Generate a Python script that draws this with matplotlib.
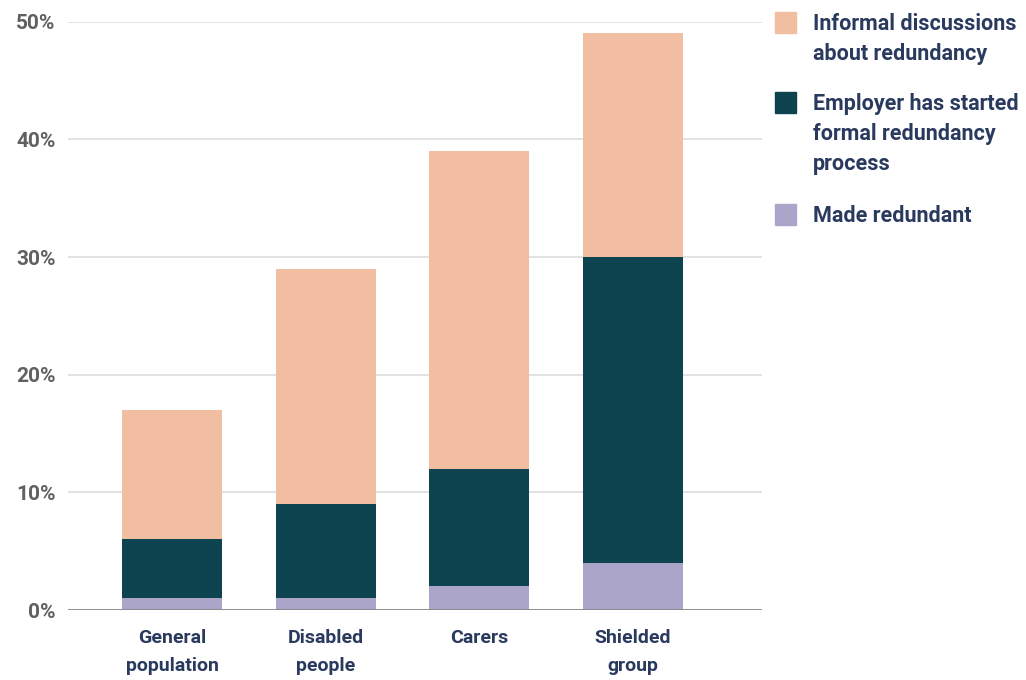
import matplotlib.pyplot as plt
import numpy as np
from matplotlib.patches import Rectangle
from matplotlib.ticker import FuncFormatter

plt.rcParams['font.family'] = ['Roboto', 'DejaVu Sans']

groups = ['General\npopulation', 'Disabled\npeople', 'Carers', 'Shielded\ngroup']
made_redundant = [1, 1, 2, 4]
formal_process = [5, 8, 10, 26]
informal_talks = [11, 20, 27, 19]

series_labels = ['Informal discussions\nabout redundancy',
                 'Employer has started\nformal redundancy\nprocess',
                 'Made redundant']
colours = ['#F2BEA1', '#0E4450', '#ABA6C9']
text_colour = '#2A3A5E'

fig = plt.figure(figsize=(10.26, 6.8), dpi=100)
ax = fig.add_axes([0.0663, 0.1029, 0.6764, 0.8652])

x = np.arange(len(groups))
width = 0.65
bottom = np.zeros(len(groups))
for vals, col in [(made_redundant, colours[2]), (formal_process, colours[1]), (informal_talks, colours[0])]:
    ax.bar(x, vals, width, bottom=bottom, color=col, zorder=2)
    bottom += np.array(vals)

ax.set_xlim(-0.677, 3.839)
ax.set_ylim(0, 50)
ax.set_yticks(range(0, 51, 10))
ax.yaxis.set_major_formatter(FuncFormatter(lambda v, p: f'{v:.0f}%'))
ax.grid(axis='y', color='#DDDDDD', linewidth=1.2, zorder=0)
ax.axhline(0, color='#888888', linewidth=2, zorder=3)
for s in ax.spines.values():
    s.set_visible(False)
ax.tick_params(axis='both', length=0)
ax.tick_params(axis='y', pad=9, labelsize=15, labelcolor='#606060')
ax.tick_params(axis='x', pad=14, labelsize=14, labelcolor=text_colour)
ax.set_xticks(x)
ax.set_xticklabels(groups, fontweight='bold', linespacing=1.7)
for t in ax.get_yticklabels():
    t.set_fontweight('bold')

# legend drawn by hand: one text per line, square next to the first line
first_baselines = [0.9559, 0.8382, 0.6735]
pitch = 30 / 680
for lab, col, base in zip(series_labels, colours, first_baselines):
    fig.patches.append(Rectangle((0.7554, base - 0.0044), 0.0205, 0.0315,
                                 transform=fig.transFigure, color=col))
    for i, line in enumerate(lab.split('\n')):
        fig.text(0.7924, base - i * pitch, line, ha='left', va='baseline',
                 fontsize=15.5, fontweight='bold', color=text_colour)

fig.savefig('out.png', dpi=100, facecolor='white')
